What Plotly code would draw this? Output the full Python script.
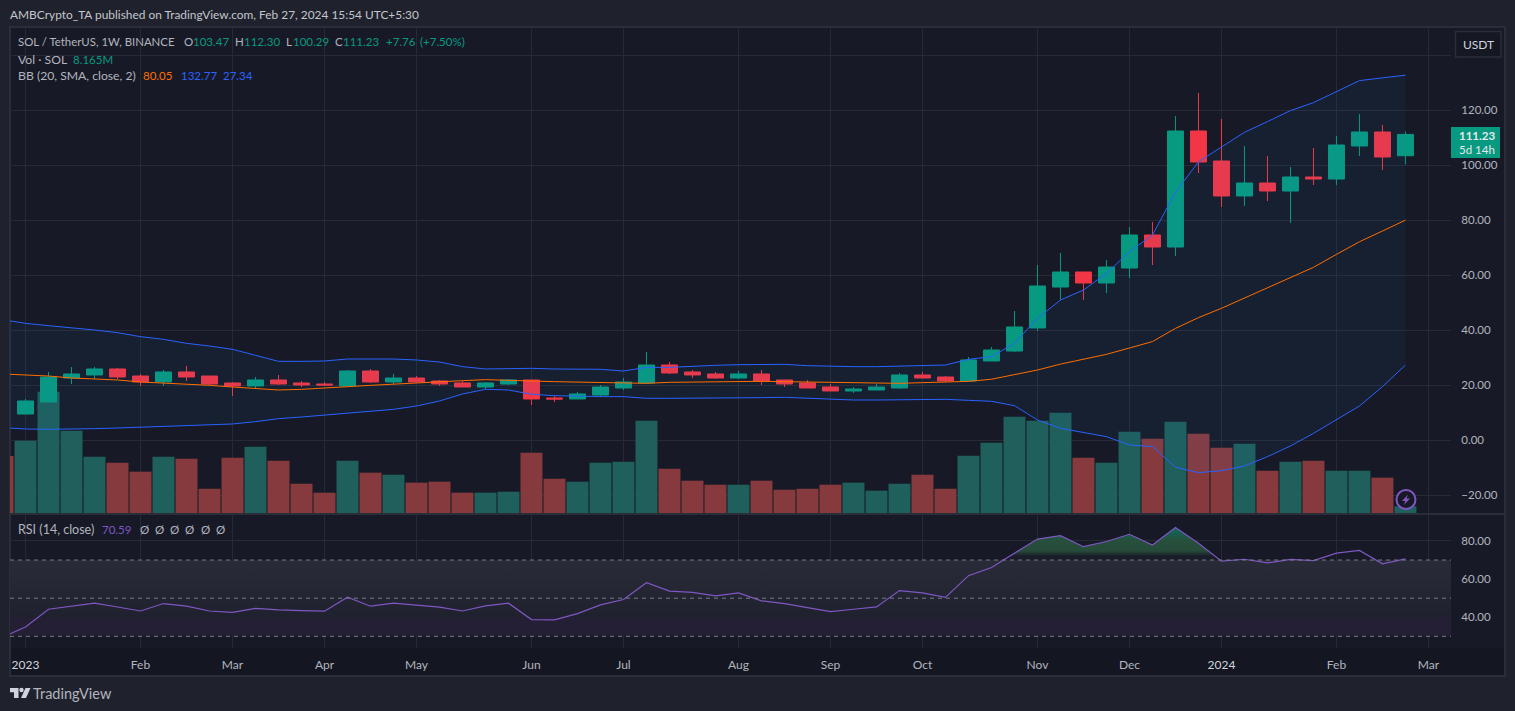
import pandas as pd
import plotly.graph_objects as go

W, H = 1515, 711

# weekly bars, first one only peeks in at the left edge
weeks = pd.date_range("2022-12-26", periods=62, freq="7D")

opens = [9.56, 13.93, 22.65, 23.75, 25.93, 23.38, 21.20, 24.84, 23.38, 20.84, 19.75, 21.93, 20.84, 20.47, 19.75, 25.20,
         21.20, 22.65, 21.56, 20.84, 19.38, 20.47, 21.93, 15.38, 15.02, 16.47, 19.02, 20.84, 27.38, 24.84, 24.11, 22.65,
         24.11, 21.93, 20.84, 19.38, 17.93, 18.29, 19.02, 23.75, 23.02, 21.56, 28.84, 32.47, 40.84, 55.74, 61.20, 57.20,
         62.65, 74.65, 70.29, 112.47, 101.56, 88.84, 93.56, 90.65, 95.74, 95.01, 107.02, 112.11, 103.47]
highs = [15.02, 24.84, 26.65, 26.65, 26.29, 24.11, 25.56, 27.02, 23.38, 21.20, 23.02, 23.75, 21.56, 21.20, 25.56, 25.93,
         24.11, 23.38, 21.93, 21.56, 21.20, 22.29, 21.93, 16.11, 17.56, 20.11, 22.65, 32.10, 28.47, 25.56, 24.84, 25.20,
         25.56, 21.93, 21.93, 20.47, 19.38, 20.47, 24.47, 24.84, 23.38, 30.29, 33.93, 47.01, 63.74, 68.10, 61.20, 65.56,
         77.56, 79.38, 117.93, 126.29, 116.84, 107.00, 103.38, 99.38, 106.29, 110.65, 118.65, 114.65, 112.30]
lows = [9.56, 13.93, 20.47, 22.29, 22.29, 19.75, 19.75, 21.56, 20.11, 16.11, 18.65, 20.11, 19.38, 19.75, 19.75, 20.84,
        20.47, 21.20, 19.75, 19.38, 18.65, 20.11, 12.84, 13.93, 15.02, 15.75, 18.29, 20.47, 24.11, 22.65, 22.29, 22.29,
        20.11, 19.38, 19.02, 17.93, 17.20, 18.29, 18.65, 22.65, 21.20, 21.56, 28.84, 32.10, 39.75, 51.00, 51.00, 53.56,
        59.00, 63.74, 67.01, 97.20, 84.84, 85.20, 87.02, 79.01, 92.83, 92.83, 103.38, 98.29, 100.29]
closes = [14.29, 23.02, 24.11, 25.93, 23.02, 21.20, 24.84, 23.02, 20.47, 19.75, 21.93, 20.47, 20.11, 20.11, 25.20, 21.20,
          22.65, 21.20, 20.47, 19.38, 20.84, 21.93, 15.02, 15.02, 16.84, 19.38, 21.20, 27.38, 24.47, 23.75, 22.65, 24.11,
          21.56, 20.47, 19.02, 17.93, 18.65, 19.38, 23.75, 22.65, 21.56, 29.20, 32.84, 41.20, 56.11, 61.20, 57.20, 63.00,
          74.65, 70.29, 112.47, 101.20, 88.84, 93.56, 90.65, 95.74, 95.01, 107.38, 112.11, 103.02, 111.23]

# volume in millions of SOL, includes the clipped bar at the start
volume = [69.5, 88.2, 148.0, 100.4, 68.7, 61.4, 50.4, 68.7, 66.2, 29.6, 67.5, 80.9, 63.8, 35.7, 24.8, 63.8,
          49.2, 46.7, 37.0, 38.2, 24.8, 24.8, 26.0, 73.6, 41.8, 38.2, 61.4, 62.6, 112.6, 54.0, 39.4, 34.5,
          34.5, 39.4, 28.4, 29.6, 34.5, 37.0, 27.2, 35.7, 46.7, 29.6, 69.9, 85.8, 117.5, 112.6, 122.4, 67.5,
          61.4, 99.2, 90.6, 111.4, 96.7, 79.7, 84.5, 51.6, 62.6, 63.8, 51.6, 51.6, 43.1, 8.165]

bb_upper = [43.87, 42.53, 41.68, 40.96, 40.11, 39.14, 37.68, 36.71, 35.26, 34.29, 33.08, 30.90, 28.71, 28.71, 28.84, 29.56,
            29.68, 29.56, 29.20, 28.47, 26.78, 25.93, 26.05, 26.17, 25.93, 25.81, 25.81, 25.20, 26.53, 26.53, 27.02, 27.26,
            27.50, 27.62, 27.62, 27.14, 26.90, 26.78, 26.78, 27.02, 27.26, 27.38, 29.44, 30.41, 35.30, 44.35, 51.02, 54.65,
            60.70, 68.60, 74.65, 90.20, 101.30, 106.50, 112.00, 115.90, 119.90, 122.80, 126.80, 130.80, 131.80, 132.77]
bb_mid = [24.11, 23.75, 23.38, 22.65, 22.29, 21.93, 21.20, 20.84, 20.47, 19.99, 19.38, 18.78, 18.29, 18.53, 18.90, 19.50,
          19.99, 20.47, 20.96, 21.32, 21.68, 22.05, 21.93, 21.56, 21.32, 21.20, 20.96, 20.71, 20.71, 21.08, 21.20, 21.20,
          21.32, 21.44, 21.32, 21.20, 21.08, 20.96, 20.84, 20.71, 20.96, 21.20, 21.43, 22.20, 23.75, 25.56, 27.70, 29.60,
          31.26, 33.56, 35.90, 40.70, 44.60, 48.00, 51.70, 55.40, 59.30, 62.90, 67.60, 72.20, 76.10, 80.05]
bb_lower = [4.59, 4.11, 3.99, 3.99, 4.23, 4.47, 4.72, 4.96, 5.32, 5.56, 5.93, 6.78, 7.87, 8.47, 9.20, 9.68,
            10.41, 11.26, 12.47, 14.29, 16.84, 18.53, 18.29, 16.72, 16.23, 15.99, 15.87, 15.87, 15.26, 15.26, 15.26, 15.26,
            15.26, 15.50, 15.62, 15.26, 14.90, 14.65, 14.65, 14.77, 14.90, 14.90, 14.53, 14.17, 12.59, 7.38, 4.35, 2.90,
            1.32, -1.71, -2.32, -9.83, -11.77, -11.04, -9.35, -5.95, -2.07, 2.53, 7.38, 12.47, 19.50, 27.34]

rsi = [29.6, 34.9, 44.2, 45.8, 47.4, 45.4, 43.3, 47.2, 45.8, 43.3, 42.6, 44.7, 43.9, 43.5, 43.2, 50.5,
       45.8, 47.4, 46.3, 45.3, 43.3, 46.0, 47.4, 38.8, 38.6, 41.9, 46.5, 49.3, 58.1, 53.7, 53.0, 51.2,
       52.8, 48.6, 47.2, 45.1, 43.0, 44.2, 45.4, 54.0, 52.8, 50.4, 61.8, 66.1, 73.6, 81.0, 82.8, 77.0,
       79.7, 83.5, 77.9, 87.1, 78.8, 69.4, 70.4, 68.5, 70.3, 69.7, 73.6, 75.0, 68.0, 70.59]

month_ticks = ["2023-01-02", "2023-02-06", "2023-03-06", "2023-04-03", "2023-05-01", "2023-06-05", "2023-07-03", "2023-08-07",
               "2023-09-04", "2023-10-02", "2023-11-06", "2023-12-04", "2024-01-01", "2024-02-05", "2024-03-04"]
month_labels = ["<span style='color:#d1d4dc'>2023</span>", "Feb", "Mar", "Apr", "May", "Jun", "Jul", "Aug", "Sep", "Oct", "Nov", "Dec",
                "<span style='color:#d1d4dc'>2024</span>", "Feb", "Mar"]
price_ticks = [-20, 0, 20, 40, 60, 80, 100, 120, 140]
price_labels = ["\u221220.00", "0.00", "20.00", "40.00", "60.00", "80.00", "100.00", "120.00", ""]
rsi_ticks = [40, 60, 80]
rsi_labels = ["40.00", "60.00", "80.00"]

GREEN = "#089981"
RED = "#f23645"
VOL_GREEN = "#1f5f5c"
VOL_RED = "#873a3d"
BLUE = "#2962ff"
ORANGE = "#ff6d00"
PURPLE = "#7e57c2"
TEXT = "#b2b5be"
GRID = "#262a35"
PAGE = "#1f222c"
PANEL = "#171a26"
FONT = "Lato, Noto Sans, sans-serif"
NUM = 11.5

x_range = ["2022-12-28 06:43", "2024-03-10 20:38"]


def fx(px):
    return px / W


def fy(px):
    return 1 - px / H


def path(points):
    return "M " + " L ".join(f"{fx(x)},{fy(y)}" for x, y in points) + " Z"


def crossing(a, b):
    # where the rsi line between list positions a and b passes 70
    t = (70 - rsi[a]) / (rsi[b] - rsi[a])
    return weeks[a] + (weeks[b] - weeks[a]) * t


vol_colors = [VOL_RED] + [VOL_GREEN if c >= o else VOL_RED for o, c in zip(opens, closes)]

# overbought stretch of the rsi, closed along the 70 line
hot = range(44, 53)
hot_x = [crossing(43, 44)] + [weeks[i] for i in hot] + [crossing(52, 53)]
hot_y = [70] + [rsi[i] for i in hot] + [70]

fig = go.Figure()

fig.add_trace(go.Bar(x=weeks, y=volume, marker=dict(color=vol_colors, line_width=0), xaxis="x", yaxis="y", hoverinfo="skip"))

fig.add_trace(go.Scatter(x=weeks, y=bb_upper, mode="lines", line=dict(color=BLUE, width=1), xaxis="x", yaxis="y2", hoverinfo="skip"))
fig.add_trace(go.Scatter(x=weeks, y=bb_lower, mode="lines", line=dict(color=BLUE, width=1), fill="tonexty",
                         fillcolor="rgba(33,150,243,0.055)", xaxis="x", yaxis="y2", hoverinfo="skip"))
fig.add_trace(go.Scatter(x=weeks, y=bb_mid, mode="lines", line=dict(color=ORANGE, width=1), xaxis="x", yaxis="y2", hoverinfo="skip"))

fig.add_trace(go.Candlestick(x=weeks[1:], open=opens, high=highs, low=lows, close=closes,
                             increasing=dict(line=dict(color=GREEN, width=1), fillcolor=GREEN),
                             decreasing=dict(line=dict(color=RED, width=1), fillcolor=RED),
                             xaxis="x", yaxis="y2", hoverinfo="skip"))

# rsi pane: 30-70 band, overbought fill, then the line
fig.add_trace(go.Scatter(x=[x_range[0], x_range[1], x_range[1], x_range[0]], y=[30, 30, 70, 70], mode="none", fill="toself",
                         fillgradient=dict(type="vertical", start=30, stop=70,
                                           colorscale=[[0, "#241f34"], [0.245, "#241f34"], [0.255, "#20212e"], [1, "#292c38"]]),
                         xaxis="x2", yaxis="y3", hoverinfo="skip"))
fig.add_trace(go.Scatter(x=hot_x, y=hot_y, mode="none", fill="toself",
                         fillgradient=dict(type="vertical", start=70, stop=87.1,
                                           colorscale=[[0, "#1a1d29"], [0.12, "#1a1d29"], [0.28, "#264a39"], [0.6, "#26503c"], [1, "#0f6a5e"]]),
                         xaxis="x2", yaxis="y3", hoverinfo="skip"))
fig.add_trace(go.Scatter(x=weeks, y=rsi, mode="lines", line=dict(color=PURPLE, width=1.2), xaxis="x2", yaxis="y3", hoverinfo="skip"))

shapes = [
    dict(type="rect", xref="paper", yref="paper", x0=fx(10), x1=fx(1505), y0=fy(676), y1=fy(27), layer="below",
         fillcolor=PANEL, line=dict(color="#2a2e39", width=2)),
    dict(type="rect", xref="paper", yref="paper", x0=fx(11), x1=fx(1504), y0=fy(675), y1=fy(648), layer="below",
         fillcolor="#141722", line_width=0),
    dict(type="line", xref="paper", yref="paper", x0=fx(10), x1=fx(1505), y0=fy(514), y1=fy(514), layer="below",
         line=dict(color="#2a2e39", width=2)),
    # price tag and unit button
    dict(type="rect", xref="paper", yref="paper", x0=fx(1451), x1=fx(1500), y0=fy(158), y1=fy(127), layer="above",
         fillcolor=GREEN, line_width=0),
    dict(type="rect", xref="paper", yref="paper", x0=fx(1455.5), x1=fx(1501), y0=fy(57), y1=fy(31.5), layer="above",
         fillcolor="#151823", line=dict(color="#2a2e39", width=1.5)),
    # lightning badge
    dict(type="circle", xref="paper", yref="paper", x0=fx(1396.5), x1=fx(1415.5), y0=fy(509), y1=fy(490), layer="above",
         fillcolor=PANEL, line=dict(color=PURPLE, width=2)),
    dict(type="path", xref="paper", yref="paper", layer="above", fillcolor=PURPLE, line_width=0,
         path=path([(1408, 494.5), (1402, 501), (1405.3, 501), (1404, 505), (1410, 498.5), (1406.6, 498.5)])),
    # logo
    dict(type="path", xref="paper", yref="paper", layer="above", fillcolor="#d1d4dc", line_width=0,
         path=path([(10, 688), (18.5, 688), (18.5, 698), (14, 698), (14, 692.3), (10, 692.3)])),
    dict(type="circle", xref="paper", yref="paper", x0=fx(19.3), x1=fx(23.7), y0=fy(692.2), y1=fy(687.8), layer="above",
         fillcolor="#d1d4dc", line_width=0),
    dict(type="path", xref="paper", yref="paper", layer="above", fillcolor="#d1d4dc", line_width=0,
         path=path([(25.5, 688), (30.5, 688), (26, 698), (21, 698)])),
]
for level in [70, 50, 30]:
    shapes.append(dict(type="line", xref="x2", yref="y3", x0=x_range[0], x1=x_range[1], y0=level, y1=level, layer="above",
                       line=dict(color="#787b86", width=1, dash="4px,4px")))


def label(x, y, text, color=TEXT, size=12.5, anchor="left"):
    return dict(xref="paper", yref="paper", x=fx(x), y=fy(y), text=text, showarrow=False, xanchor=anchor, yanchor="middle",
                font=dict(color=color, size=size, family=FONT), borderpad=0, borderwidth=0)


notes = [
    label(10, 15, "AMBCrypto_TA published on TradingView.com, Feb 27, 2024 15:54 UTC+5:30", color="#c4c6cd", size=11.9),
    label(18, 41.5, "SOL / TetherUS, 1W, BINANCE", size=11.4),
    label(184, 41.5, "O", size=NUM), label(193, 41.5, "103.47", GREEN, NUM),
    label(235, 41.5, "H", size=NUM), label(244, 41.5, "112.30", GREEN, NUM),
    label(286, 41.5, "L", size=NUM), label(293, 41.5, "100.29", GREEN, NUM),
    label(335, 41.5, "C", size=NUM), label(343, 41.5, "111.23", GREEN, NUM),
    label(386, 41.5, "+7.76", GREEN, NUM), label(420, 41.5, "(+7.50%)", GREEN, NUM),
    label(18, 59, "Vol \u00b7 SOL", size=12.2), label(73, 59, "8.165M", GREEN, NUM),
    label(18, 76, "BB (20, SMA, close, 2)", size=12.2), label(143, 76, "80.05", ORANGE, NUM),
    label(181, 76, "132.77", BLUE, NUM), label(223, 76, "27.34", BLUE, NUM),
    label(18, 529, "RSI (14, close)"), label(102, 529, "70.59", PURPLE, NUM),
    label(1478, 44.5, "USDT", color="#d1d4dc", size=12),
    label(1495, 136, "<b>111.23</b>", color="#e6e8ec", size=NUM, anchor="right"),
    label(1495, 150, "5d 14h", color="#e6e8ec", size=NUM, anchor="right"),
    label(33, 693, "TradingView", color="#b2b5be", size=14.5),
]
notes[-4]["xanchor"] = "center"
for x in [140, 155, 170, 185, 201, 216]:
    notes.append(label(x, 529, "\u00d8", size=NUM))

fig.update_layout(
    width=W, height=H, autosize=False,
    margin=dict(l=0, r=0, t=0, b=0),
    paper_bgcolor=PAGE, plot_bgcolor="rgba(0,0,0,0)",
    showlegend=False, bargap=0.045, boxgap=0.166, boxgroupgap=0.166, hovermode=False,
    font=dict(family=FONT, size=12, color=TEXT),
    shapes=shapes, annotations=notes,
    xaxis=dict(domain=[fx(10), fx(1451)], range=x_range, type="date", anchor="y", rangeslider_visible=False,
               tickmode="array", tickvals=month_ticks, ticktext=month_labels, showticklabels=False,
               showgrid=True, gridcolor=GRID, gridwidth=1, zeroline=False, ticks=""),
    xaxis2=dict(domain=[fx(10), fx(1451)], range=x_range, type="date", anchor="y3",
                tickmode="array", tickvals=month_ticks, ticktext=month_labels, showticklabels=True,
                showgrid=True, gridcolor=GRID, gridwidth=1, zeroline=False,
                ticks="outside", ticklen=6, tickcolor="rgba(0,0,0,0)", tickfont=dict(size=12, color=TEXT)),
    yaxis=dict(domain=[fy(513), fy(27)], range=[0, 592.9], anchor="x", visible=False, fixedrange=True),
    yaxis2=dict(domain=[fy(513), fy(27)], range=[-26.44, 150.29], anchor="x", overlaying="y", side="right",
                tickmode="array", tickvals=price_ticks, ticktext=price_labels, showgrid=True, gridcolor=GRID,
                zeroline=False, ticks="outside", ticklen=7, tickcolor="rgba(0,0,0,0)", tickfont=dict(size=NUM, color=TEXT)),
    yaxis3=dict(domain=[fy(648), fy(515)], range=[23.9, 93.6], anchor="x2", side="right",
                tickmode="array", tickvals=rsi_ticks, ticktext=rsi_labels, showgrid=True, gridcolor=GRID,
                zeroline=False, ticks="outside", ticklen=7, tickcolor="rgba(0,0,0,0)", tickfont=dict(size=NUM, color=TEXT)),
)

fig.write_html("out.html", config=dict(displayModeBar=False), post_script="document.body.style.margin='0';")
